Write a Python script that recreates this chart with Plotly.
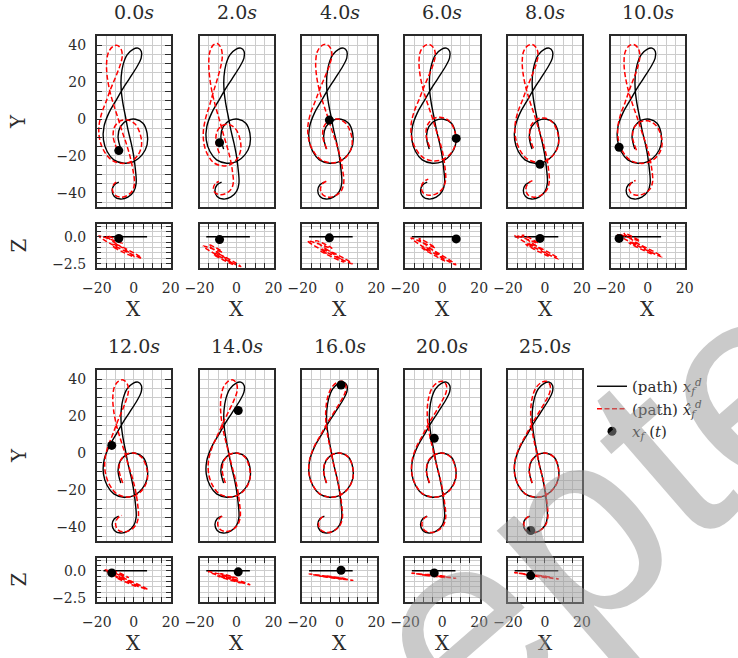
import plotly.graph_objects as go

W, H = 738, 658

# ---------------- data ----------------
times = [0.0, 2.0, 4.0, 6.0, 8.0, 10.0, 12.0, 14.0, 16.0, 20.0, 25.0]

# desired path (treble clef), XY plane, z = 0
clef_x = [-7.0, -8.5, -7.2, -3.6, 0.9, 5.0, 7.2, 7.2, 4.5, 0.0, -5.4, -10.8, -14.4, -16.4,
          -16.1, -13.5, -9.9, -6.3, -2.2, 1.8, 4.0, 4.1, 2.3, -0.4, -3.6, -5.8, -6.8, -6.8,
          -5.9, -4.5, -3.1, -1.4, 0.0, 0.9, 1.3, 0.0, -3.2, -7.2, -10.5, -11.7, -10.5, -8.1]
clef_y = [-16.3, -9.5, -4.1, -0.8, -0.1, -2.3, -7.7, -14.0, -19.4, -23.0, -23.9, -22.1, -17.6, -11.3,
          -4.1, 3.2, 9.5, 15.8, 22.1, 28.4, 32.9, 36.5, 38.3, 37.7, 34.7, 29.3, 23.0, 15.8,
          8.6, 1.4, -5.9, -13.1, -20.3, -27.5, -34.7, -39.2, -42.3, -43.3, -41.9, -38.7, -35.6, -34.1]

# current position x_f(t)
dot_x = [-8.1, -9.2, -5.4, 7.6, -2.7, -15.5, -11.9, 0.9, 0.9, -4.3, -7.7]
dot_y = [-17.1, -12.8, -0.6, -10.5, -24.5, -15.3, 4.1, 23.0, 36.8, 8.0, -41.9]
dot_z = [-0.15, -0.25, -0.1, -0.2, -0.15, -0.15, -0.2, -0.1, 0.05, -0.2, -0.45]

# estimated path: offsets read at the top loop / middle / bottom of the clef
est_sx     = [0.94, 0.83, 0.98, 1.00, 0.97, 0.98, 0.95, 0.94, 1.00, 1.00, 1.00]
est_dx_top = [-10.8, -11.5, -9.1, -9.1, -8.85, -9.6, -7.65, -3.8, -0.8, -2.0, -1.5]
est_dx_mid = [-2.75, -3.25, -0.5, -0.15, 0.15, 0.3, 0.45, 0.55, 0.0, 0.0, 0.0]
est_dx_bot = [-0.1, -2.1, 1.4, 0.2, 1.0, 1.26, 1.4, 1.0, 0.5, 0.8, 0.3]
est_dy_top = [1.5, 2.5, 2.0, 2.0, 2.0, 2.0, 1.2, 1.2, 0.5, 0.5, 0.5]
est_dy_mid = [-0.4, -2.7, 0.0, 1.0, 0.5, -0.8, 0.0, 0.0, 0.0, 0.0, 0.0]
est_dy_bot = [1.0, 2.3, 1.0, 2.0, 1.0, 2.0, 0.6, 0.8, 0.3, 0.3, 0.3]
# estimated path in Z: level at x=-18, slope along x, spread along y
est_z_left  = [0.05, -0.8, -0.25, 0.05, 0.35, 0.45, 0.3, 0.1, -0.25, -0.18, -0.12]
est_z_slope = [-0.085, -0.09, -0.085, -0.1, -0.09, -0.085, -0.077, -0.053, -0.025, -0.02, -0.025]
est_z_width = [0.9, 0.8, 0.9, 0.85, 0.85, 0.8, 0.6, 0.4, 0.12, 0.12, 0.12]

x_ticks = [-20, -15, -10, -5, 0, 5, 10, 15, 20]
x_labels = ["\u221220", " ", " ", " ", "0", " ", " ", " ", "20"]
y_ticks = [-45, -40, -35, -30, -25, -20, -15, -10, -5, 0, 5, 10, 15, 20, 25, 30, 35, 40]
y_labels = [" " if v % 20 else ("\u2212%d" % -v if v < 0 else "%d" % v) for v in y_ticks]
z_ticks = [-2.5, -2.0, -1.5, -1.0, -0.5, 0.0, 0.5, 1.0]
z_labels = ["\u22122.5", " ", " ", " ", " ", "0.0", " ", " "]

# ---------------- helpers ----------------
Y_ANCH = (38.0, -10.0, -43.0)
XC = -4.6


def three_anchor(y, d):
    y0, y1, y2 = Y_ANCH
    d0, d1, d2 = d
    return (d0 * (y - y1) * (y - y2) / ((y0 - y1) * (y0 - y2))
            + d1 * (y - y0) * (y - y2) / ((y1 - y0) * (y1 - y2))
            + d2 * (y - y0) * (y - y1) / ((y2 - y0) * (y2 - y1)))


def estimate(k):
    xs, ys, zs = [], [], []
    for x, y in zip(clef_x, clef_y):
        xe = XC + est_sx[k] * (x - XC) + three_anchor(y, (est_dx_top[k], est_dx_mid[k], est_dx_bot[k]))
        ye = y + three_anchor(y, (est_dy_top[k], est_dy_mid[k], est_dy_bot[k]))
        ze = est_z_left[k] + est_z_slope[k] * (xe + 18.0) + est_z_width[k] * ye / 85.0
        xs.append(xe); ys.append(ye); zs.append(ze)
    return xs, ys, zs


# ---------------- layout geometry (pixels) ----------------
PW = 74.5
col_left = [96.7 + 102.8 * i for i in range(6)]
row_xy = [(36, 207), (370, 541)]
row_xz = [(224, 268), (558, 602)]
title_y = [12, 346]
xlab_y = [309, 643]

FONT = "DejaVu Serif, serif"
TXT = "#2b2b2b"
FRAME = "#2a2a2a"
GRID = "#cccccc"

fig = go.Figure()
layout = dict(width=W, height=H, margin=dict(l=0, r=0, t=0, b=0, autoexpand=False),
              paper_bgcolor="white", plot_bgcolor="white", showlegend=True,
              font=dict(family=FONT, size=14, color=TXT))
annotations = []

BLACK_NAME = "(path) <i>x</i><sub><i>f</i></sub><sup><i>d</i></sup>"
RED_NAME = "(path) <i>x\u0302</i><sub><i>f</i></sub><sup><i>d</i></sup>"
DOT_NAME = "<i>x</i><sub><i>f</i></sub> (<i>t</i>)"
RED_DASH = "5px,2.5px"

ax = 0
for k, t in enumerate(times):
    row = 0 if k < 6 else 1
    col = k if k < 6 else k - 6
    left = col_left[col]
    xdom = [left / W, (left + PW) / W]
    first = col == 0
    ex, ey, ez = estimate(k)

    # ---- XY subplot ----
    ax += 1
    sfx = "" if ax == 1 else str(ax)
    top, bot = row_xy[row]
    layout["xaxis" + sfx] = dict(domain=xdom, anchor="y" + sfx, range=[-20.05, 20.25],
                                 tickvals=x_ticks, showticklabels=False, ticks="",
                                 showgrid=True, gridcolor=GRID, gridwidth=1, zeroline=False,
                                 showline=True, linecolor=FRAME, linewidth=1.5, mirror=True)
    layout["yaxis" + sfx] = dict(domain=[1 - bot / H, 1 - top / H], anchor="x" + sfx,
                                 range=[-47.6, 44.9], tickvals=y_ticks, ticktext=y_labels,
                                 showticklabels=first, ticks="inside" if first else "",
                                 ticklen=6, tickcolor=FRAME, tickwidth=1.2, tickangle=0,
                                 ticklabelstandoff=6,
                                 showgrid=True, gridcolor=GRID, gridwidth=1, zeroline=False,
                                 showline=True, linecolor=FRAME, linewidth=1.5,
                                 mirror="ticks" if first else True,
                                 tickfont=dict(family=FONT, size=14, color=TXT))
    xa, ya = "x" + sfx, "y" + sfx
    fig.add_trace(go.Scatter(x=clef_x, y=clef_y, mode="lines", xaxis=xa, yaxis=ya,
                             line=dict(color="black", width=1.4, shape="spline"),
                             name=BLACK_NAME, showlegend=(k == 0), legendrank=1))
    fig.add_trace(go.Scatter(x=ex, y=ey, mode="lines", xaxis=xa, yaxis=ya,
                             line=dict(color="#ff0000", width=1.5, dash=RED_DASH, shape="spline"),
                             name=RED_NAME, showlegend=(k == 0), legendrank=2))
    fig.add_trace(go.Scatter(x=[dot_x[k]], y=[dot_y[k]], mode="markers", xaxis=xa, yaxis=ya,
                             marker=dict(color="black", size=9),
                             name=DOT_NAME, showlegend=(k == 0), legendrank=3))

    # ---- XZ subplot ----
    ax += 1
    sfx = str(ax)
    top, bot = row_xz[row]
    layout["xaxis" + sfx] = dict(domain=xdom, anchor="y" + sfx, range=[-20.05, 20.25],
                                 tickvals=x_ticks, ticktext=x_labels, ticks="inside",
                                 ticklen=5, tickcolor=FRAME, tickwidth=1.2, tickangle=0,
                                 ticklabelstandoff=6,
                                 showgrid=True, gridcolor=GRID, gridwidth=1, zeroline=False,
                                 showline=True, linecolor=FRAME, linewidth=1.5, mirror="ticks",
                                 tickfont=dict(family=FONT, size=14, color=TXT))
    layout["yaxis" + sfx] = dict(domain=[1 - bot / H, 1 - top / H], anchor="x" + sfx,
                                 range=[-2.91, 1.19], tickvals=z_ticks, ticktext=z_labels,
                                 showticklabels=first, ticks="inside" if first else "",
                                 ticklen=5, tickcolor=FRAME, tickwidth=1.2, tickangle=0,
                                 ticklabelstandoff=6,
                                 showgrid=True, gridcolor=GRID, gridwidth=1, zeroline=False,
                                 showline=True, linecolor=FRAME, linewidth=1.5,
                                 mirror="ticks" if first else True,
                                 tickfont=dict(family=FONT, size=14, color=TXT))
    xa, ya = "x" + sfx, "y" + sfx
    fig.add_trace(go.Scatter(x=clef_x, y=[0.0] * len(clef_x), mode="lines", xaxis=xa, yaxis=ya,
                             line=dict(color="black", width=1.5), showlegend=False))
    fig.add_trace(go.Scatter(x=ex, y=ez, mode="lines", xaxis=xa, yaxis=ya,
                             line=dict(color="#ff0000", width=1.5, dash=RED_DASH, shape="spline"),
                             showlegend=False))
    fig.add_trace(go.Scatter(x=[dot_x[k]], y=[dot_z[k]], mode="markers", xaxis=xa, yaxis=ya,
                             marker=dict(color="black", size=9), showlegend=False))

    # ---- texts ----
    cx = (left + PW / 2) / W
    annotations.append(dict(text="%.1f<i>s</i>" % t, x=cx, y=1 - title_y[row] / H, xref="paper",
                            yref="paper", showarrow=False, xanchor="center", yanchor="middle",
                            font=dict(family=FONT, size=19, color=TXT)))
    annotations.append(dict(text="X", x=cx, y=1 - xlab_y[row] / H, xref="paper", yref="paper",
                            showarrow=False, xanchor="center", yanchor="middle",
                            font=dict(family=FONT, size=20, color=TXT)))
    if first:
        ymid = (row_xy[row][0] + row_xy[row][1]) / 2
        zmid = (row_xz[row][0] + row_xz[row][1]) / 2
        for txt, yy in (("Y", ymid), ("Z", zmid)):
            annotations.append(dict(text=txt, x=18.5 / W, y=1 - yy / H, xref="paper",
                                    yref="paper", showarrow=False, textangle=-90,
                                    xanchor="center", yanchor="middle",
                                    font=dict(family=FONT, size=20, color=TXT)))

# watermark
annotations.append(dict(text="Accepted", x=488 / W, y=1 - 604 / H, xref="paper", yref="paper",
                        showarrow=False, textangle=-41, xanchor="center", yanchor="middle",
                        font=dict(family="Liberation Sans, Arial, DejaVu Sans, sans-serif",
                                  size=270, color="rgba(150,150,150,0.5)")))

layout["annotations"] = annotations
layout["legend"] = dict(x=592 / W, y=1 - 370 / H, xanchor="left", yanchor="top",
                        bgcolor="rgba(0,0,0,0)", borderwidth=0, tracegroupgap=0,
                        font=dict(family=FONT, size=15, color=TXT))
fig.update_layout(**layout)
fig.write_html("out.html")
